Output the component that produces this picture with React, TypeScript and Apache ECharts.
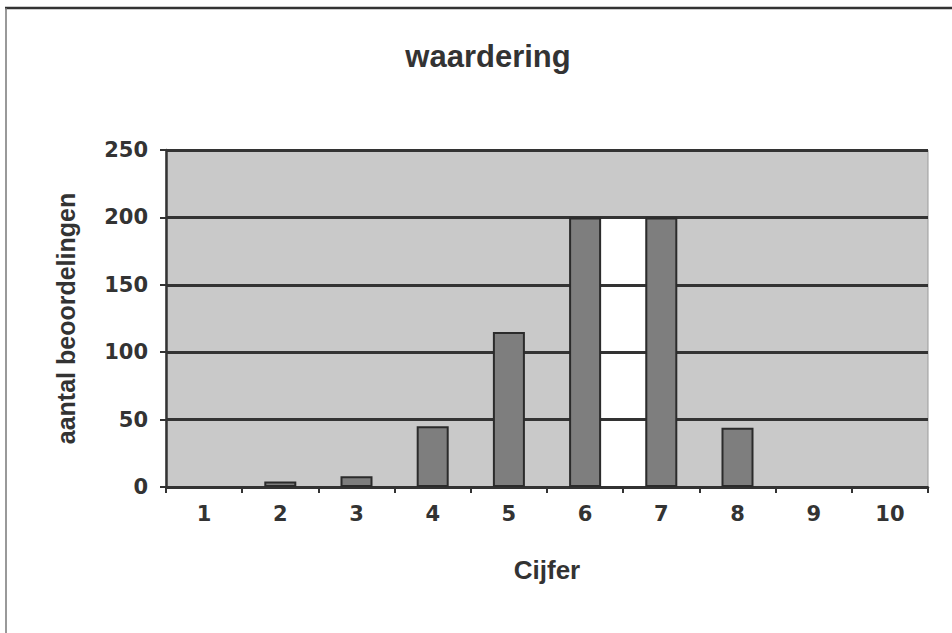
import React, { useEffect, useRef } from "react";
import * as echarts from "echarts";

const categories = ["1", "2", "3", "4", "5", "6", "7", "8", "9", "10"];
const counts = [0, 4, 8, 45, 115, 200, 200, 44, 0, 0];
const yTicks = [0, 50, 100, 150, 200, 250];
// white band drawn between two adjacent category bars, up to a value
const bandFrom = ["6"];
const bandTo = ["7"];
const bandValue = [200];

const TEXT = "#333333";
const FONT_TICK = "DejaVu Sans";
const FONT_TITLE = "Liberation Sans";

export default function App() {
  const ref = useRef<HTMLDivElement>(null);

  useEffect(() => {
    document.body.style.margin = "0";
    if (!ref.current) return;
    const chart = echarts.init(ref.current, undefined, { renderer: "svg" });
    const barRatio = 0.42;
    chart.setOption({
      animation: false,
      backgroundColor: "#ffffff",
      title: {
        text: "waardering",
        left: 483,
        textAlign: "center",
        top: 36,
        textStyle: {
          fontFamily: FONT_TITLE,
          fontWeight: "bold",
          fontSize: 31,
          color: TEXT,
        },
      },
      graphic: [
        {
          type: "line",
          shape: { x1: 5, y1: 8, x2: 952, y2: 8 },
          style: { stroke: "#333333", lineWidth: 2.5 },
        },
        {
          type: "line",
          shape: { x1: 6, y1: 8, x2: 6, y2: 633 },
          style: { stroke: "#777777", lineWidth: 1.5 },
        },
      ],
      grid: {
        left: 166,
        right: 24,
        top: 150,
        bottom: 146,
        show: true,
        backgroundColor: "#c9c9c9",
        borderColor: "#9a9a9a",
        borderWidth: 1,
      },
      xAxis: {
        type: "category",
        data: categories,
        boundaryGap: true,
        name: "Cijfer",
        nameLocation: "middle",
        nameGap: 70,
        nameTextStyle: {
          fontFamily: FONT_TITLE,
          fontWeight: "bold",
          fontSize: 26,
          color: TEXT,
        },
        axisLine: { show: true, lineStyle: { color: "#333333", width: 2.5 } },
        axisTick: {
          show: true,
          alignWithLabel: false,
          length: 6,
          lineStyle: { color: "#333333", width: 2 },
        },
        axisLabel: {
          margin: 16,
          fontFamily: FONT_TICK,
          fontWeight: "bold",
          fontSize: 21,
          color: TEXT,
        },
        splitLine: { show: false },
        z: 3,
      },
      yAxis: {
        type: "value",
        min: yTicks[0],
        max: yTicks[yTicks.length - 1],
        interval: yTicks[1] - yTicks[0],
        name: "aantal beoordelingen",
        nameLocation: "middle",
        nameRotate: 90,
        nameGap: 88,
        nameTextStyle: {
          fontFamily: FONT_TITLE,
          fontWeight: "bold",
          fontSize: 25,
          color: TEXT,
        },
        axisLine: { show: true, lineStyle: { color: "#333333", width: 2.5 } },
        axisTick: {
          show: true,
          length: 6,
          lineStyle: { color: "#333333", width: 2 },
        },
        axisLabel: {
          margin: 18,
          fontFamily: FONT_TICK,
          fontWeight: "bold",
          fontSize: 21,
          color: TEXT,
        },
        splitLine: {
          show: true,
          lineStyle: { color: "#333333", width: 3 },
        },
        z: 3,
      },
      series: [
        {
          type: "custom",
          z: 2,
          silent: true,
          data: bandFrom.map((f, i) => [
            categories.indexOf(f),
            categories.indexOf(bandTo[i]),
            bandValue[i],
          ]),
          renderItem: (params: any, api: any) => {
            const iFrom = api.value(0);
            const iTo = api.value(1);
            const v = api.value(2);
            const pFrom = api.coord([iFrom, v]);
            const pTo = api.coord([iTo, 0]);
            const half = (api.size([1, 0])[0] * barRatio) / 2;
            const x1 = pFrom[0] + half;
            const x2 = pTo[0] - half;
            return {
              type: "rect",
              shape: { x: x1, y: pFrom[1], width: x2 - x1, height: pTo[1] - pFrom[1] },
              style: { fill: "#ffffff" },
            };
          },
        },
        {
          type: "bar",
          data: counts.map((v) => ({
            value: v,
            itemStyle: v === 0 ? { borderWidth: 0, opacity: 0 } : {},
          })),
          barWidth: `${barRatio * 100}%`,
          z: 4,
          itemStyle: {
            color: "#7e7e7e",
            borderColor: "#2b2b2b",
            borderWidth: 2,
          },
        },
      ],
    });
    return () => chart.dispose();
  }, []);

  return <div ref={ref} style={{ width: 952, height: 633 }} />;
}
